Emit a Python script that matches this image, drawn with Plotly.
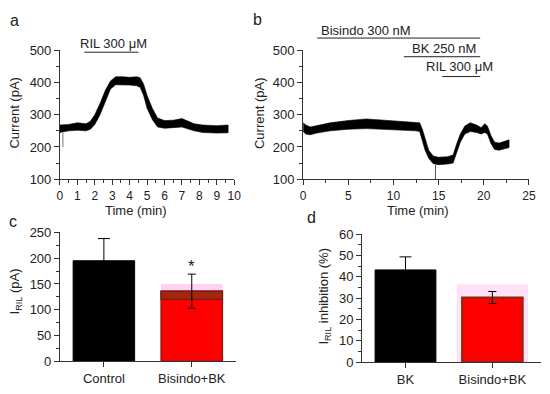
import plotly.graph_objects as go

# ---------------- data ----------------
# Panel a: current trace envelope (time min, low pA, high pA)
a_time = [0.0, 0.5, 1.0, 1.5, 1.75, 2.0, 2.3, 2.6, 2.9, 3.2, 3.6, 4.0, 4.4, 4.6, 4.8, 5.0, 5.3, 5.6, 6.0, 6.5, 7.0, 7.3, 7.7, 8.2, 9.0, 9.65]
a_low = [245, 250, 252, 250, 255, 270, 300, 340, 380, 393, 392, 392, 390, 385, 360, 320, 285, 262, 258, 260, 262, 258, 250, 245, 243, 244]
a_high = [268, 270, 275, 272, 280, 300, 335, 375, 405, 418, 418, 416, 418, 415, 395, 360, 320, 290, 282, 283, 288, 282, 272, 268, 266, 268]
a_spike_x = [0.17, 0.17]
a_spike_y = [245, 200]

# Panel b: current trace envelope
b_time = [0.0, 0.3, 0.8, 1.5, 3.0, 5.0, 7.0, 9.0, 11.0, 12.5, 12.9, 13.2, 13.5, 13.9, 14.4, 15.0, 16.0, 16.6, 17.0, 17.4, 17.9, 18.5, 19.2, 19.7, 20.1, 20.4, 20.8, 21.2, 21.7, 22.3, 22.8]
b_low = [248, 240, 238, 243, 250, 255, 257, 255, 252, 250, 248, 220, 190, 165, 148, 145, 147, 150, 180, 215, 240, 248, 245, 240, 245, 240, 210, 192, 190, 195, 198]
b_high = [275, 268, 262, 266, 275, 282, 287, 283, 278, 276, 275, 255, 225, 190, 172, 168, 170, 175, 210, 240, 265, 275, 268, 260, 272, 265, 235, 215, 212, 218, 222]
b_spike_x = [14.65, 14.65]
b_spike_y = [145, 100]

# Drug application bars (start, end in min)
a_ril = [1.4, 4.5]
b_bisindo = [1.55, 19.6]
b_bk = [11.15, 19.6]
b_ril = [15.4, 19.6]

# Panel c: I_RIL (pA)
c_cats = ["Control", "Bisindo+BK"]
c_vals = [195, 136]
c_err = [43, 33]
c_shadow = 150
c_band_base = 120

# Panel d: I_RIL inhibition (%)
d_cats = ["BK", "Bisindo+BK"]
d_vals = [43.2, 30.3]
d_err = [6.1, 2.8]
d_shadow = 36.5

FONT = "Arial, Liberation Sans, sans-serif"
AX = "#333333"

fig = go.Figure()

# ---- panel a ----
fig.add_trace(go.Scatter(x=a_time + a_time[::-1], y=a_high + a_low[::-1], fill="toself",
                         fillcolor="black", line=dict(color="black", width=0.6),
                         mode="lines", xaxis="x", yaxis="y", showlegend=False))
fig.add_trace(go.Scatter(x=a_spike_x, y=a_spike_y, mode="lines", line=dict(color="#777", width=1),
                         xaxis="x", yaxis="y", showlegend=False))
# ---- panel b ----
fig.add_trace(go.Scatter(x=b_time + b_time[::-1], y=b_high + b_low[::-1], fill="toself",
                         fillcolor="black", line=dict(color="black", width=0.6),
                         mode="lines", xaxis="x2", yaxis="y2", showlegend=False))
fig.add_trace(go.Scatter(x=b_spike_x, y=b_spike_y, mode="lines", line=dict(color="#555", width=1),
                         xaxis="x2", yaxis="y2", showlegend=False))

# ---- panel c ----
fig.add_trace(go.Bar(x=[c_cats[1]], y=[c_shadow], width=0.7, marker=dict(color="#ffd2f4", line=dict(width=0)),
                     xaxis="x3", yaxis="y3", showlegend=False))
fig.add_trace(go.Bar(x=[c_cats[0]], y=[c_vals[0]], width=0.7,
                     marker=dict(color="black", line=dict(color="black", width=1)),
                     error_y=dict(type="data", array=[c_err[0]], color="black", thickness=1, width=6),
                     xaxis="x3", yaxis="y3", showlegend=False))
fig.add_trace(go.Bar(x=[c_cats[1]], y=[c_vals[1]], width=0.7,
                     marker=dict(color="#ff0000", line=dict(color="#7a1a10", width=1.2)),
                     xaxis="x3", yaxis="y3", showlegend=False))
fig.add_trace(go.Bar(x=[c_cats[1]], y=[c_vals[1] - c_band_base], base=[c_band_base], width=0.7,
                     marker=dict(color="#a3260f", line=dict(color="#7a1a10", width=1.2)),
                     error_y=dict(type="data", array=[c_err[1]], color="black", thickness=1, width=4),
                     xaxis="x3", yaxis="y3", showlegend=False))

# ---- panel d ----
fig.add_trace(go.Bar(x=[d_cats[1]], y=[d_shadow], width=0.82, marker=dict(color="#ffe0f6", line=dict(width=0)),
                     xaxis="x4", yaxis="y4", showlegend=False))
fig.add_trace(go.Bar(x=[d_cats[0]], y=[d_vals[0]], width=0.7,
                     marker=dict(color="black", line=dict(color="black", width=1)),
                     error_y=dict(type="data", array=[d_err[0]], color="black", thickness=1, width=6),
                     xaxis="x4", yaxis="y4", showlegend=False))
fig.add_trace(go.Bar(x=[d_cats[1]], y=[d_vals[1]], width=0.7,
                     marker=dict(color="#ff0000", line=dict(color="#7a3010", width=1.8)),
                     error_y=dict(type="data", array=[d_err[1]], color="black", thickness=1, width=4),
                     xaxis="x4", yaxis="y4", showlegend=False))


def ax(size=13, **kw):
    base = dict(showline=True, linecolor=AX, linewidth=1, ticks="outside", ticklen=5, tickcolor=AX,
                tickwidth=1, showgrid=False, zeroline=False,
                tickfont=dict(family=FONT, size=size, color="#222"), fixedrange=True)
    base.update(kw)
    return base


W, H = 550, 394
def px(x): return x / W
def py(y): return 1 - y / H

fig.update_layout(
    width=W, height=H, margin=dict(l=0, r=0, t=0, b=0),
    paper_bgcolor="white", plot_bgcolor="white", barmode="overlay",
    font=dict(family=FONT, size=13, color="#222"),
    xaxis=ax(size=12, domain=[px(58), px(235.5)], range=[0, 10], dtick=1, tick0=0, anchor="y",
             minor=dict(ticks="outside", ticklen=3, dtick=0.5, tickcolor=AX)),
    yaxis=ax(domain=[py(179), py(45)], range=[100, 500], dtick=100, anchor="x",
             minor=dict(ticks="outside", ticklen=3, dtick=50, tickcolor=AX)),
    xaxis2=ax(size=12, domain=[px(305.7), px(535.7)], range=[0, 25], dtick=5, tick0=0, anchor="y2",
              minor=dict(ticks="outside", ticklen=3, dtick=2.5, tickcolor=AX)),
    yaxis2=ax(domain=[py(179), py(45)], range=[100, 500], dtick=100, anchor="x2",
              minor=dict(ticks="outside", ticklen=3, dtick=50, tickcolor=AX)),
    xaxis3=ax(domain=[px(58), px(237)], range=[-0.5, 1.5], type="category", anchor="y3",
              categoryorder="array", categoryarray=c_cats),
    yaxis3=ax(domain=[py(368.3), py(234.3)], range=[0, 250], dtick=50, anchor="x3",
              minor=dict(ticks="outside", ticklen=3, dtick=25, tickcolor=AX)),
    xaxis4=ax(domain=[px(365.7), px(548)], range=[-0.5, 1.56], type="category", anchor="y4",
              categoryorder="array", categoryarray=d_cats),
    yaxis4=ax(domain=[py(369.3), py(236)], range=[0, 60], dtick=10, anchor="x4",
              minor=dict(ticks="outside", ticklen=3, dtick=5, tickcolor=AX)),
)

# drug application lines
lines = [("x", a_ril, py(47)), ("x2", b_bisindo, py(32.3)), ("x2", b_bk, py(51.7)), ("x2", b_ril, py(72.3))]
for xr, (x0, x1), yy in lines:
    fig.add_shape(type="line", xref=xr, yref="paper", x0=x0, x1=x1, y0=yy, y1=yy,
                  line=dict(color="#222", width=1))

ann = []
def text(t, x, y, xref="paper", size=13, angle=0, **kw):
    ann.append(dict(text=t, x=x, y=y, xref=xref, yref="paper", showarrow=False, textangle=angle,
                    font=dict(family=FONT, size=size, color="#222"), xanchor="center", yanchor="middle", **kw))

text("RIL 300 μM", 3.1, py(38), xref="x")
text("Bisindo 300 nM", 7.0, py(24), xref="x2")
text("BK 250 nM", 15.55, py(43), xref="x2")
text("RIL 300 μM", 17.3, py(62.3), xref="x2")

text("Current (pA)", px(12), py(110), angle=-90)
text("Current (pA)", px(262), py(110), angle=-90)
text("Time (min)", px(135), py(212))
text("Time (min)", px(422.5), py(212))
text("I<sub>RIL</sub> (pA)", px(13), py(296), angle=-90)
text("I<sub>RIL</sub> inhibition (%)", px(328), py(301), angle=-90)

text("a", px(12), py(14), size=16)
text("b", px(259), py(13), size=16)
text("c", px(10), py(223), size=16)
text("d", px(314), py(219), size=16)

ann.append(dict(text="*", x="Bisindo+BK", y=184, xref="x3", yref="y3", showarrow=False,
                font=dict(family=FONT, size=17, color="#222"), xanchor="center", yanchor="middle"))

fig.update_layout(annotations=ann)
fig.write_html("out.html", config={"displayModeBar": False},
               post_script="document.body.style.margin='0';document.body.style.overflow='hidden';")
